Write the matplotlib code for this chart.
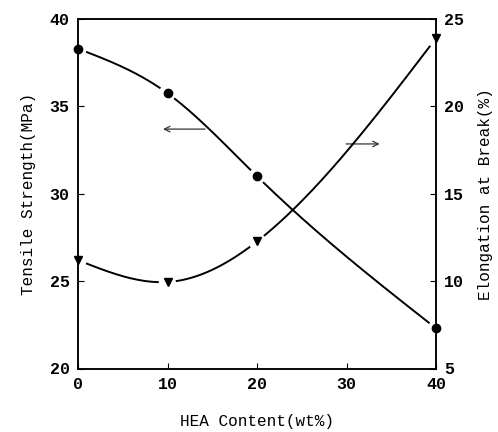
import numpy as np
import matplotlib
matplotlib.use("Agg")
import matplotlib.pyplot as plt

# data
hea = [0, 10, 20, 40]
tensile = [38.3, 35.75, 31.0, 22.3]      # MPa, left axis
elong = [11.2, 9.95, 12.27, 23.9]        # %, right axis

xticks = [0, 10, 20, 30, 40]
lticks = [20, 25, 30, 35, 40]
rticks = [5, 10, 15, 20, 25]

plt.rcParams['font.family'] = ['Liberation Mono', 'DejaVu Sans Mono']

fig = plt.figure(figsize=(4.98, 4.32), dpi=100)
ax = fig.add_axes([78 / 498, 63.5 / 432, 358 / 498, 349.5 / 432])
ax2 = ax.twinx()

ax.set_xlim(0, 40)
ax.set_ylim(20, 40)
ax2.set_ylim(5, 25)


def natural_spline(xs, ys, xx):
    # natural cubic spline through the points
    x = np.asarray(xs, float)
    y = np.asarray(ys, float)
    n = len(x)
    h = np.diff(x)
    A = np.zeros((n, n))
    b = np.zeros(n)
    A[0, 0] = A[-1, -1] = 1
    for i in range(1, n - 1):
        A[i, i - 1] = h[i - 1]
        A[i, i] = 2 * (h[i - 1] + h[i])
        A[i, i + 1] = h[i]
        b[i] = 6 * ((y[i + 1] - y[i]) / h[i] - (y[i] - y[i - 1]) / h[i - 1])
    m = np.linalg.solve(A, b)
    k = np.clip(np.searchsorted(x, xx) - 1, 0, n - 2)
    t = xx - x[k]
    hk = h[k]
    return (y[k] + ((y[k + 1] - y[k]) / hk - hk * (2 * m[k] + m[k + 1]) / 6) * t
            + m[k] / 2 * t ** 2 + (m[k + 1] - m[k]) / (6 * hk) * t ** 3)


def gapped_curve(axis, xs, ys, gap=9):
    xx = np.linspace(xs[0], xs[-1], 400)
    yy = natural_spline(xs, ys, xx)
    pts = axis.transData.transform(np.column_stack([xx, yy]))
    mk = axis.transData.transform(np.column_stack([xs, ys]))
    d = np.min(np.hypot(pts[:, None, 0] - mk[None, :, 0],
                        pts[:, None, 1] - mk[None, :, 1]), axis=1)
    yy = np.where(d < gap, np.nan, yy)
    axis.plot(xx, yy, color='black', lw=1.4)


gapped_curve(ax, hea, tensile)
gapped_curve(ax2, hea, elong)
ax.plot(hea, tensile, 'o', color='black', ms=6, clip_on=False, zorder=5)
ax2.plot(hea, elong, 'v', color='black', ms=5.5, clip_on=False, zorder=5)

# arrows pointing to the axes
arr = dict(arrowstyle='->', color='#333333', lw=0.9, shrinkA=0, shrinkB=0)
ax.annotate('', xy=(9.5, 33.7), xytext=(14.2, 33.7), arrowprops=arr)
ax.annotate('', xy=(33.7, 32.85), xytext=(29.95, 32.85), arrowprops=arr)

ax.set_xticks(xticks)
ax.set_yticks(lticks)
ax2.set_yticks(rticks)
for a in (ax, ax2):
    a.tick_params(direction='in', length=4, width=0.8, labelsize=12, pad=6)
    for lab in a.get_xticklabels() + a.get_yticklabels():
        lab.set_fontweight('bold')
    for s in a.spines.values():
        s.set_linewidth(1.1)
ax.tick_params(top=False, right=False)

ax.set_xlabel('HEA Content(wt%)', fontsize=11.5, labelpad=16)
ax.set_ylabel('Tensile Strength(MPa)', fontsize=11.5, labelpad=10)
ax2.set_ylabel('Elongation at Break(%)', fontsize=11.5, labelpad=10)

fig.savefig('out.png', dpi=100)
